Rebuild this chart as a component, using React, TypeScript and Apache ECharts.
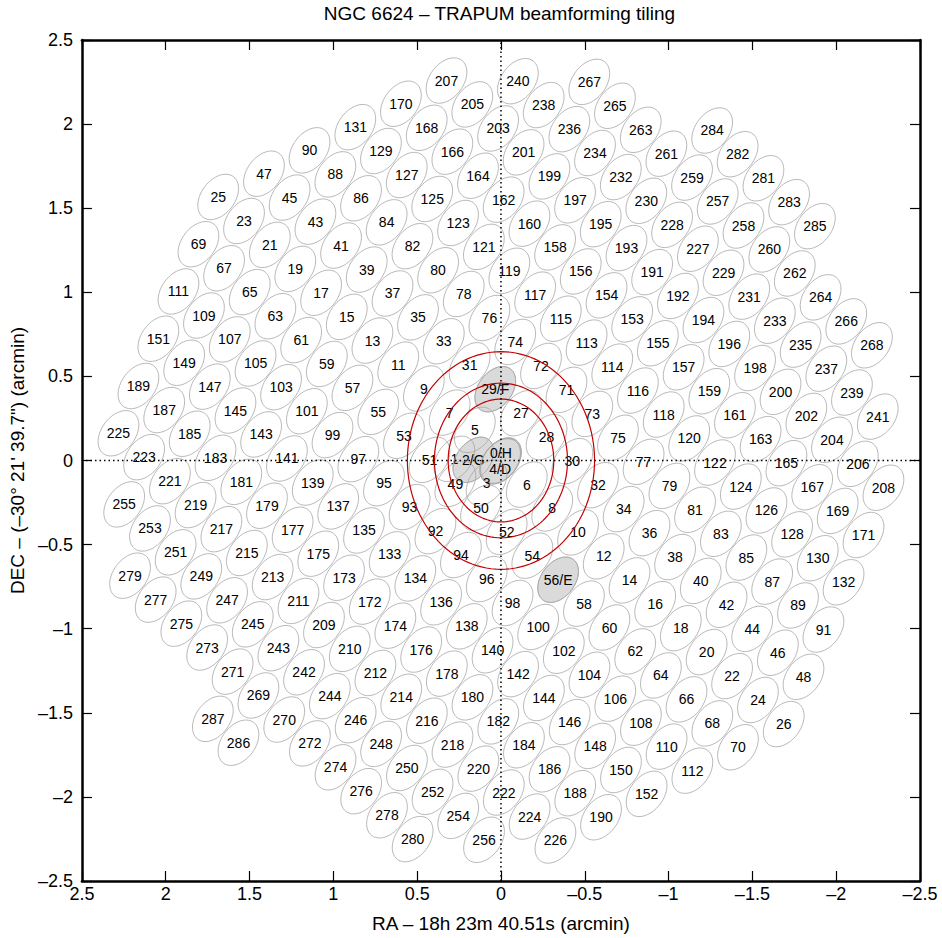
import React, { useEffect, useRef } from "react";
import * as echarts from "echarts";

// Beam labels, RA offsets (arcmin) and DEC offsets (arcmin), read row by row from top to bottom
const beamLabels = [
  "207", "240", "267",
  "170", "205", "238", "265",
  "131", "168", "203", "236", "263", "284",
  "90", "129", "166", "201", "234", "261", "282",
  "47", "88", "127", "164", "199", "232", "259", "281",
  "25", "45", "86", "125", "162", "197", "230", "257", "283",
  "23", "43", "84", "123", "160", "195", "228", "258", "285",
  "69", "21", "41", "82", "121", "158", "193", "227", "260",
  "67", "19", "39", "80", "119", "156", "191", "229", "262",
  "111", "65", "17", "37", "78", "117", "154", "192", "231", "264",
  "109", "63", "15", "35", "76", "115", "153", "194", "233", "266",
  "151", "107", "61", "13", "33", "74", "113", "155", "196", "235", "268",
  "149", "105", "59", "11", "31", "72", "114", "157", "198", "237",
  "189", "147", "103", "57", "9", "29/F", "71", "116", "159", "200", "239",
  "187", "145", "101", "55", "7", "27", "73", "118", "161", "202", "241",
  "225", "185", "143", "99", "53", "5", "28", "75", "120", "163", "204",
  "223", "183", "141", "97", "51", "1", "2/G", "0/H", "4/D", "30", "77", "122", "165", "206",
  "221", "181", "139", "95", "49", "3", "6", "32", "79", "124", "167", "208",
  "255", "219", "179", "137", "93", "50", "8", "34", "81", "126", "169",
  "253", "217", "177", "135", "92", "52", "10", "36", "83", "128", "171",
  "251", "215", "175", "133", "94", "54", "12", "38", "85", "130",
  "279", "249", "213", "173", "134", "96", "56/E", "14", "40", "87", "132",
  "277", "247", "211", "172", "136", "98", "58", "16", "42", "89",
  "275", "245", "209", "174", "138", "100", "60", "18", "44", "91",
  "273", "243", "210", "176", "140", "102", "62", "20", "46",
  "271", "242", "212", "178", "142", "104", "64", "22", "48",
  "269", "244", "214", "180", "144", "106", "66", "24",
  "287", "270", "246", "216", "182", "146", "108", "68", "26",
  "286", "272", "248", "218", "184", "148", "110", "70",
  "274", "250", "220", "186", "150", "112",
  "276", "252", "222", "188", "152",
  "278", "254", "224", "190",
  "280", "256", "226",
];

const beamRA = [
  0.325, -0.101, -0.527,
  0.597, 0.171, -0.255, -0.68,
  0.869, 0.443, 0.017, -0.408, -0.834, -1.26,
  1.142, 0.716, 0.29, -0.135, -0.561, -0.987, -1.412,
  1.414, 0.988, 0.562, 0.137, -0.289, -0.715, -1.14, -1.566,
  1.687, 1.261, 0.835, 0.41, -0.016, -0.442, -0.867, -1.293, -1.719,
  1.533, 1.107, 0.682, 0.256, -0.17, -0.595, -1.021, -1.447, -1.873,
  1.805, 1.379, 0.954, 0.528, 0.102, -0.323, -0.749, -1.175, -1.601,
  1.652, 1.227, 0.801, 0.375, -0.05, -0.476, -0.902, -1.328, -1.753,
  1.924, 1.499, 1.073, 0.647, 0.222, -0.204, -0.63, -1.056, -1.481, -1.907,
  1.772, 1.346, 0.92, 0.495, 0.069, -0.357, -0.783, -1.208, -1.634, -2.06,
  2.044, 1.618, 1.192, 0.767, 0.341, -0.085, -0.511, -0.936, -1.362, -1.788, -2.213,
  1.89, 1.464, 1.039, 0.613, 0.187, -0.239, -0.664, -1.09, -1.516, -1.941,
  2.163, 1.737, 1.312, 0.886, 0.46, 0.034, -0.391, -0.817, -1.243, -1.668, -2.094,
  2.009, 1.584, 1.158, 0.732, 0.306, -0.119, -0.545, -0.971, -1.396, -1.822, -2.248,
  2.282, 1.857, 1.431, 1.005, 0.579, 0.156, -0.272, -0.698, -1.123, -1.549, -1.975,
  2.129, 1.703, 1.277, 0.851, 0.426, 0.278, 0.165, 0.0, 0.005, -0.426, -0.851, -1.277, -1.703, -2.129,
  1.975, 1.549, 1.123, 0.698, 0.272, 0.086, -0.154, -0.579, -1.005, -1.431, -1.857, -2.282,
  2.248, 1.822, 1.396, 0.971, 0.545, 0.119, -0.306, -0.732, -1.158, -1.584, -2.009,
  2.094, 1.668, 1.243, 0.817, 0.391, -0.034, -0.46, -0.886, -1.312, -1.737, -2.163,
  1.941, 1.516, 1.09, 0.664, 0.239, -0.187, -0.613, -1.039, -1.464, -1.89,
  2.213, 1.788, 1.362, 0.936, 0.511, 0.085, -0.341, -0.767, -1.192, -1.618, -2.044,
  2.06, 1.634, 1.208, 0.783, 0.357, -0.069, -0.495, -0.92, -1.346, -1.772,
  1.907, 1.481, 1.056, 0.63, 0.204, -0.222, -0.647, -1.073, -1.499, -1.924,
  1.753, 1.328, 0.902, 0.476, 0.05, -0.375, -0.801, -1.227, -1.652,
  1.601, 1.175, 0.749, 0.323, -0.102, -0.528, -0.954, -1.379, -1.805,
  1.447, 1.021, 0.595, 0.17, -0.256, -0.682, -1.107, -1.533,
  1.719, 1.293, 0.867, 0.442, 0.016, -0.41, -0.835, -1.261, -1.687,
  1.566, 1.14, 0.715, 0.289, -0.137, -0.562, -0.988, -1.414,
  0.987, 0.561, 0.135, -0.29, -0.716, -1.142,
  0.834, 0.408, -0.017, -0.443, -0.869,
  0.68, 0.255, -0.171, -0.597,
  0.527, 0.101, -0.325,
];

const beamDec = [
  2.259, 2.255, 2.251,
  2.121, 2.117, 2.113, 2.109,
  1.982, 1.978, 1.974, 1.97, 1.966, 1.962,
  1.844, 1.84, 1.836, 1.832, 1.828, 1.824, 1.821,
  1.705, 1.701, 1.697, 1.693, 1.689, 1.685, 1.682, 1.678,
  1.567, 1.563, 1.559, 1.555, 1.551, 1.547, 1.544, 1.54, 1.536,
  1.424, 1.42, 1.416, 1.412, 1.408, 1.405, 1.401, 1.397, 1.393,
  1.286, 1.282, 1.278, 1.274, 1.27, 1.267, 1.263, 1.259, 1.255,
  1.143, 1.139, 1.135, 1.131, 1.128, 1.124, 1.12, 1.116, 1.112,
  1.005, 1.001, 0.997, 0.993, 0.99, 0.986, 0.982, 0.978, 0.974, 0.97,
  0.862, 0.858, 0.854, 0.851, 0.847, 0.843, 0.839, 0.835, 0.831, 0.827,
  0.724, 0.72, 0.716, 0.713, 0.709, 0.705, 0.701, 0.697, 0.693, 0.689, 0.685,
  0.581, 0.577, 0.574, 0.57, 0.566, 0.562, 0.558, 0.554, 0.55, 0.546,
  0.443, 0.439, 0.436, 0.432, 0.428, 0.424, 0.42, 0.416, 0.412, 0.408, 0.404,
  0.3, 0.297, 0.293, 0.289, 0.285, 0.281, 0.277, 0.273, 0.269, 0.265, 0.261,
  0.162, 0.159, 0.155, 0.151, 0.147, 0.182, 0.139, 0.135, 0.131, 0.127, 0.123,
  0.02, 0.016, 0.012, 0.008, 0.004, 0.01, 0.004, 0.0, -0.005, -0.004, -0.008, -0.012, -0.016, -0.02,
  -0.123, -0.127, -0.131, -0.135, -0.139, -0.132, -0.143, -0.147, -0.151, -0.155, -0.159, -0.162,
  -0.261, -0.265, -0.269, -0.273, -0.277, -0.281, -0.285, -0.289, -0.293, -0.297, -0.3,
  -0.404, -0.408, -0.412, -0.416, -0.42, -0.424, -0.428, -0.432, -0.436, -0.439, -0.443,
  -0.546, -0.55, -0.554, -0.558, -0.562, -0.566, -0.57, -0.574, -0.577, -0.581,
  -0.685, -0.689, -0.693, -0.697, -0.701, -0.705, -0.709, -0.713, -0.716, -0.72, -0.724,
  -0.827, -0.831, -0.835, -0.839, -0.843, -0.847, -0.851, -0.854, -0.858, -0.862,
  -0.97, -0.974, -0.978, -0.982, -0.986, -0.99, -0.993, -0.997, -1.001, -1.005,
  -1.112, -1.116, -1.12, -1.124, -1.128, -1.131, -1.135, -1.139, -1.143,
  -1.255, -1.259, -1.263, -1.267, -1.27, -1.274, -1.278, -1.282, -1.286,
  -1.397, -1.401, -1.405, -1.408, -1.412, -1.416, -1.42, -1.424,
  -1.536, -1.54, -1.544, -1.547, -1.551, -1.555, -1.559, -1.563, -1.567,
  -1.678, -1.682, -1.685, -1.689, -1.693, -1.697, -1.701, -1.705,
  -1.824, -1.828, -1.832, -1.836, -1.84, -1.844,
  -1.966, -1.97, -1.974, -1.978, -1.982,
  -2.109, -2.113, -2.117, -2.121,
  -2.251, -2.255, -2.259,
];

// beams placed on known pulsars (filled grey)
const pulsarBeams = ["0/H", "2/G", "4/D", "29/F", "56/E"];

// red rings: DEC radii (arcmin); RA radius = DEC radius * cos(dec)
const ringRadii = [0.365, 0.46, 0.647];
const ringRaFactor = 0.863;

// beam shape (arcmin) and position angle of major axis (deg, from +screen-x, counter-clockwise)
const BEAM_A = 0.151;
const BEAM_B = 0.101;
const BEAM_ANGLE = 53;

// text offsets (px) for labels that share a position
const labelShiftY: Record<string, number> = { "0/H": -8, "4/D": 8 };

const FONT = '"Liberation Sans", Arial, Helvetica, sans-serif';

const fmtTick = (v: number) => (v < 0 ? "\u2013" + String(Math.abs(v)) : String(v));

function ellipsePts(api: any, cx: number, cy: number) {
  const phi = (BEAM_ANGLE * Math.PI) / 180;
  // data x is inverted (positive to the left), so screen up-right = (-x, +y)
  const ex = -Math.cos(phi);
  const ey = Math.sin(phi);
  const fx = Math.sin(phi);
  const fy = Math.cos(phi);
  const pts: number[][] = [];
  const N = 56;
  for (let n = 0; n < N; n++) {
    const t = (2 * Math.PI * n) / N;
    const c = Math.cos(t);
    const s = Math.sin(t);
    pts.push(api.coord([cx + BEAM_A * c * ex + BEAM_B * s * fx, cy + BEAM_A * c * ey + BEAM_B * s * fy]));
  }
  return pts;
}

export default function App() {
  const ref = useRef<HTMLDivElement>(null);

  useEffect(() => {
    document.body.style.margin = "0";
    if (!ref.current) return;
    const chart = echarts.init(ref.current, undefined, { renderer: "svg" });

    const beamData = beamLabels.map((_, i) => [beamRA[i], beamDec[i], i]);
    const filledData = beamData.filter((d) => pulsarBeams.includes(beamLabels[d[2] as number]));

    const axisCommon = {
      type: "value" as const,
      min: -2.5,
      max: 2.5,
      interval: 0.5,
      splitLine: { show: false },
      axisLine: { show: true, onZero: false, lineStyle: { color: "#000", width: 2.5 } },
      axisTick: { show: true, inside: true, length: 10, lineStyle: { color: "#000", width: 1.2 } },
    };

    const option: any = {
      animation: false,
      title: {
        text: "NGC 6624 \u2013 TRAPUM beamforming tiling",
        left: 499.5,
        top: 4,
        padding: 0,
        textAlign: "center",
        textStyle: { fontSize: 19, fontWeight: "normal", color: "#000", fontFamily: FONT },
      },
      grid: { left: 79, top: 40, width: 841, height: 842, containLabel: false },
      xAxis: [
        {
          ...axisCommon,
          inverse: true,
          position: "bottom",
          name: "RA \u2013 18h 23m 40.51s (arcmin)",
          nameLocation: "middle",
          nameGap: 33,
          nameTextStyle: { fontSize: 19, color: "#000", fontFamily: FONT },
          axisLabel: { color: "#000", fontSize: 18, fontFamily: FONT, margin: 4, formatter: fmtTick },
        },
        {
          ...axisCommon,
          inverse: true,
          position: "top",
          axisLabel: { show: false },
        },
      ],
      yAxis: [
        {
          ...axisCommon,
          position: "left",
          name: "DEC \u2013 (\u201330\u00b0 21' 39.7\") (arcmin)",
          nameLocation: "middle",
          nameGap: 50,
          nameTextStyle: { fontSize: 19, color: "#000", fontFamily: FONT },
          axisLabel: { color: "#000", fontSize: 18, fontFamily: FONT, margin: 9, formatter: fmtTick },
        },
        {
          ...axisCommon,
          position: "right",
          axisLabel: { show: false },
        },
      ],
      series: [
        {
          type: "custom",
          name: "pulsarFill",
          xAxisIndex: 0,
          yAxisIndex: 0,
          silent: true,
          z: 1,
          data: filledData,
          renderItem: (params: any, api: any) => {
            const pts = ellipsePts(api, api.value(0), api.value(1));
            return {
              type: "polygon",
              shape: { points: pts },
              style: { fill: "#dadada", stroke: "#b5b5b5", lineWidth: 0.8 },
            };
          },
        },
        {
          type: "custom",
          name: "beams",
          xAxisIndex: 0,
          yAxisIndex: 0,
          silent: true,
          z: 2,
          data: beamData,
          renderItem: (params: any, api: any) => {
            const x = api.value(0);
            const y = api.value(1);
            const label = beamLabels[api.value(2)];
            const pts = ellipsePts(api, x, y);
            const c = api.coord([x, y]);
            const dy = labelShiftY[label] || 0;
            return {
              type: "group",
              children: [
                {
                  type: "polygon",
                  shape: { points: pts },
                  style: { fill: "none", stroke: "#a6a6a6", lineWidth: 0.8 },
                },
                {
                  type: "text",
                  x: c[0],
                  y: c[1] + dy,
                  style: {
                    text: label,
                    fill: "#000",
                    font: "14px " + FONT,
                    align: "center",
                    verticalAlign: "middle",
                    textAlign: "center",
                    textVerticalAlign: "middle",
                  },
                },
              ],
            };
          },
        },
        {
          type: "custom",
          name: "rings",
          xAxisIndex: 0,
          yAxisIndex: 0,
          silent: true,
          z: 3,
          data: ringRadii.map((r) => [0, 0, r]),
          renderItem: (params: any, api: any) => {
            const r = api.value(2);
            const pts: number[][] = [];
            const N = 120;
            for (let n = 0; n < N; n++) {
              const t = (2 * Math.PI * n) / N;
              pts.push(api.coord([r * ringRaFactor * Math.cos(t), r * Math.sin(t)]));
            }
            return {
              type: "polygon",
              shape: { points: pts },
              style: { fill: "none", stroke: "#c40000", lineWidth: 1.2 },
            };
          },
        },
        {
          type: "line",
          name: "raZero",
          xAxisIndex: 0,
          yAxisIndex: 0,
          silent: true,
          z: 4,
          showSymbol: false,
          symbol: "none",
          data: [
            [0, -2.5],
            [0, 2.5],
          ],
          lineStyle: { color: "#000", width: 1.5, type: [1.5, 3] },
        },
        {
          type: "line",
          name: "decZero",
          xAxisIndex: 0,
          yAxisIndex: 0,
          silent: true,
          z: 4,
          showSymbol: false,
          symbol: "none",
          data: [
            [-2.5, 0],
            [2.5, 0],
          ],
          lineStyle: { color: "#000", width: 1.5, type: [1.5, 3] },
        },
      ],
    };

    chart.setOption(option);
    return () => {
      chart.dispose();
    };
  }, []);

  return <div ref={ref} style={{ width: 942, height: 938 }} />;
}
